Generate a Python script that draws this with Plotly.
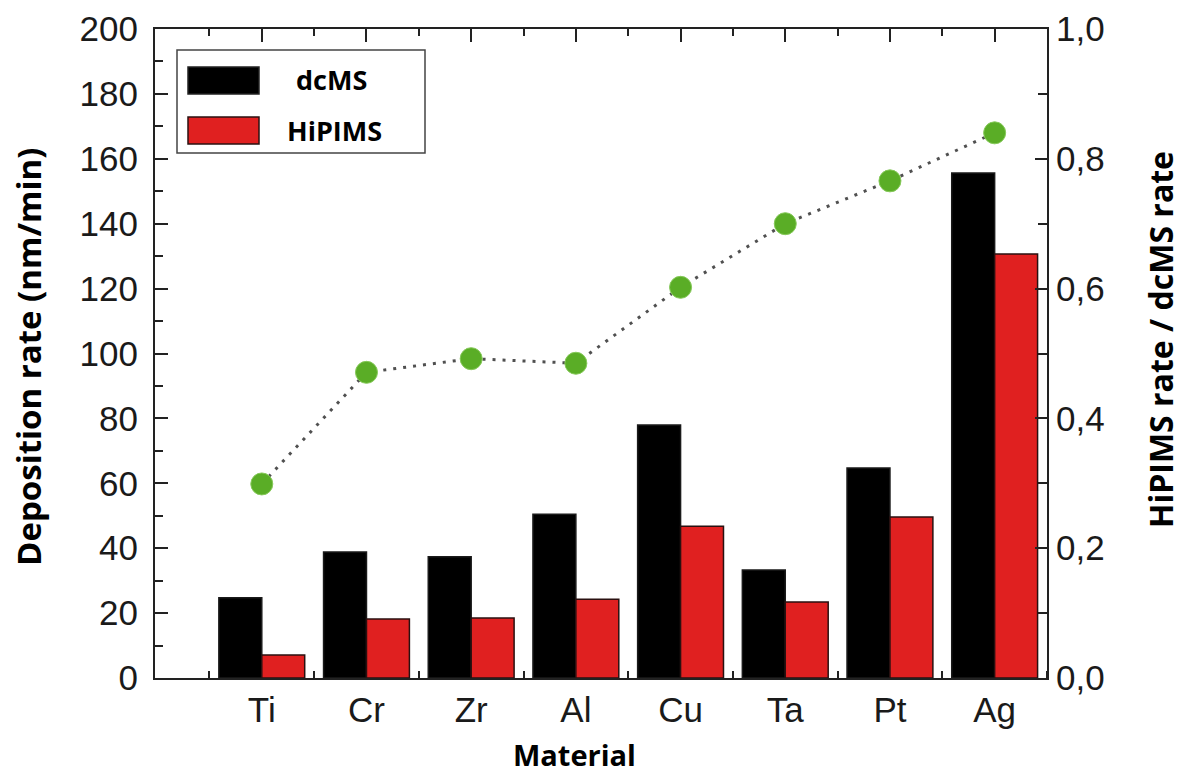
import plotly.graph_objects as go

materials = ["Ti", "Cr", "Zr", "Al", "Cu", "Ta", "Pt", "Ag"]
dcms = [24.7, 38.8, 37.4, 50.5, 78.0, 33.3, 64.7, 155.6]
hipims = [7.1, 18.2, 18.5, 24.3, 46.8, 23.4, 49.6, 130.7]
ratio = [0.299, 0.471, 0.492, 0.485, 0.602, 0.700, 0.766, 0.840]

W, H = 1185, 776
L, R, T, B = 155, 1047, 29, 678
pw, ph = R - L, B - T

def px(x):
    return (x - L) / pw

def py(y):
    return (B - y) / ph

xi = list(range(len(materials)))
mids = [i - 0.5 for i in range(len(materials) + 1)]

fig = go.Figure()
fig.add_trace(go.Bar(x=xi, y=dcms, name="dcMS", marker=dict(color="#000000", line=dict(color="#1a1a1a", width=1.5)), showlegend=False))
fig.add_trace(go.Bar(x=xi, y=hipims, name="HiPIMS", marker=dict(color="#e02020", line=dict(color="#2a1010", width=1.5)), showlegend=False))
fig.add_trace(go.Scatter(x=xi, y=ratio, xaxis="x2", yaxis="y2", mode="lines+markers",
                         line=dict(color="#505050", width=3, dash="3px,7px"),
                         marker=dict(color="#5aad26", size=22, line=dict(color="#86c95a", width=1)),
                         showlegend=False))

tickfont = dict(family="Liberation Sans, Arial, sans-serif", size=35, color="#1a1a1a")
titlefont = dict(family="Open Sans, sans-serif", size=33, color="#000000", weight="bold")

xr = [-1.02, 7.5]
fig.update_layout(
    width=W, height=H,
    margin=dict(l=L, r=W - R, t=T, b=H - B, autoexpand=False),
    plot_bgcolor="white", paper_bgcolor="white",
    barmode="group", bargap=0.18, bargroupgap=0,
    separators=",.",
    xaxis=dict(range=xr, tickmode="array", tickvals=xi, ticktext=materials, ticks="",
               tickfont=tickfont, showline=True, linecolor="#222", linewidth=2,
               showgrid=False, zeroline=False,
               minor=dict(tickmode="array", tickvals=mids, ticks="inside", ticklen=7, tickwidth=2, tickcolor="#222")),
    xaxis2=dict(range=xr, overlaying="x", side="top", anchor="y2", tickmode="array", tickvals=xi,
                showticklabels=False, ticks="inside", ticklen=13, tickwidth=2, tickcolor="#222",
                showline=True, linecolor="#222", linewidth=2, showgrid=False, zeroline=False,
                minor=dict(tickmode="array", tickvals=mids, ticks="inside", ticklen=7, tickwidth=2, tickcolor="#222")),
    yaxis=dict(range=[0, 200], tickmode="linear", tick0=0, dtick=20, ticks="inside", ticklen=13, tickwidth=2,
               tickcolor="#222", tickfont=tickfont, showline=True, linecolor="#222", linewidth=2,
               showgrid=False, zeroline=False, ticklabelstandoff=8,
               minor=dict(dtick=10, ticks="inside", ticklen=8, tickwidth=2, tickcolor="#222")),
    yaxis2=dict(range=[0, 1], overlaying="y", side="right", anchor="x2", tickmode="linear", tick0=0, dtick=0.2,
                tickformat=".1f", ticks="inside", ticklen=12, tickwidth=2, tickcolor="#222", tickfont=tickfont,
                showline=True, linecolor="#222", linewidth=2, showgrid=False, zeroline=False,
                minor=dict(dtick=0.1, ticks="inside", ticklen=9, tickwidth=2, tickcolor="#222")),
)

# legend box drawn manually
shapes = [
    dict(type="rect", xref="paper", yref="paper", x0=px(177), x1=px(425), y0=py(153), y1=py(50),
         line=dict(color="#444", width=1.5), fillcolor="white"),
    dict(type="rect", xref="paper", yref="paper", x0=px(188), x1=px(259), y0=py(94), y1=py(67),
         line=dict(color="#222", width=1.5), fillcolor="#000000"),
    dict(type="rect", xref="paper", yref="paper", x0=px(188), x1=px(259), y0=py(144), y1=py(117),
         line=dict(color="#2a1010", width=1.5), fillcolor="#e02020"),
]
legfont = dict(family="Open Sans, sans-serif", size=27, color="#000000", weight="bold")
annotations = [
    dict(text="dcMS", xref="paper", yref="paper", x=px(331), y=py(80), showarrow=False, font=legfont,
         xanchor="center", yanchor="middle"),
    dict(text="HiPIMS", xref="paper", yref="paper", x=px(334), y=py(130), showarrow=False, font=legfont,
         xanchor="center", yanchor="middle"),
    dict(text="Material", xref="paper", yref="paper", x=px(574), y=py(754), showarrow=False,
         font=dict(family="Open Sans, sans-serif", size=29, color="#000000", weight="bold"),
         xanchor="center", yanchor="middle"),
    dict(text="Deposition rate (nm/min)", xref="paper", yref="paper", x=px(28), y=py(357), showarrow=False,
         textangle=-90, font=titlefont, xanchor="center", yanchor="middle"),
    dict(text="HiPIMS rate / dcMS rate", xref="paper", yref="paper", x=px(1161), y=py(340), showarrow=False,
         textangle=-90, font=dict(family="Open Sans, sans-serif", size=32, color="#000000", weight="bold"),
         xanchor="center", yanchor="middle"),
]
fig.update_layout(shapes=shapes, annotations=annotations)

fig.write_html("out.html")
